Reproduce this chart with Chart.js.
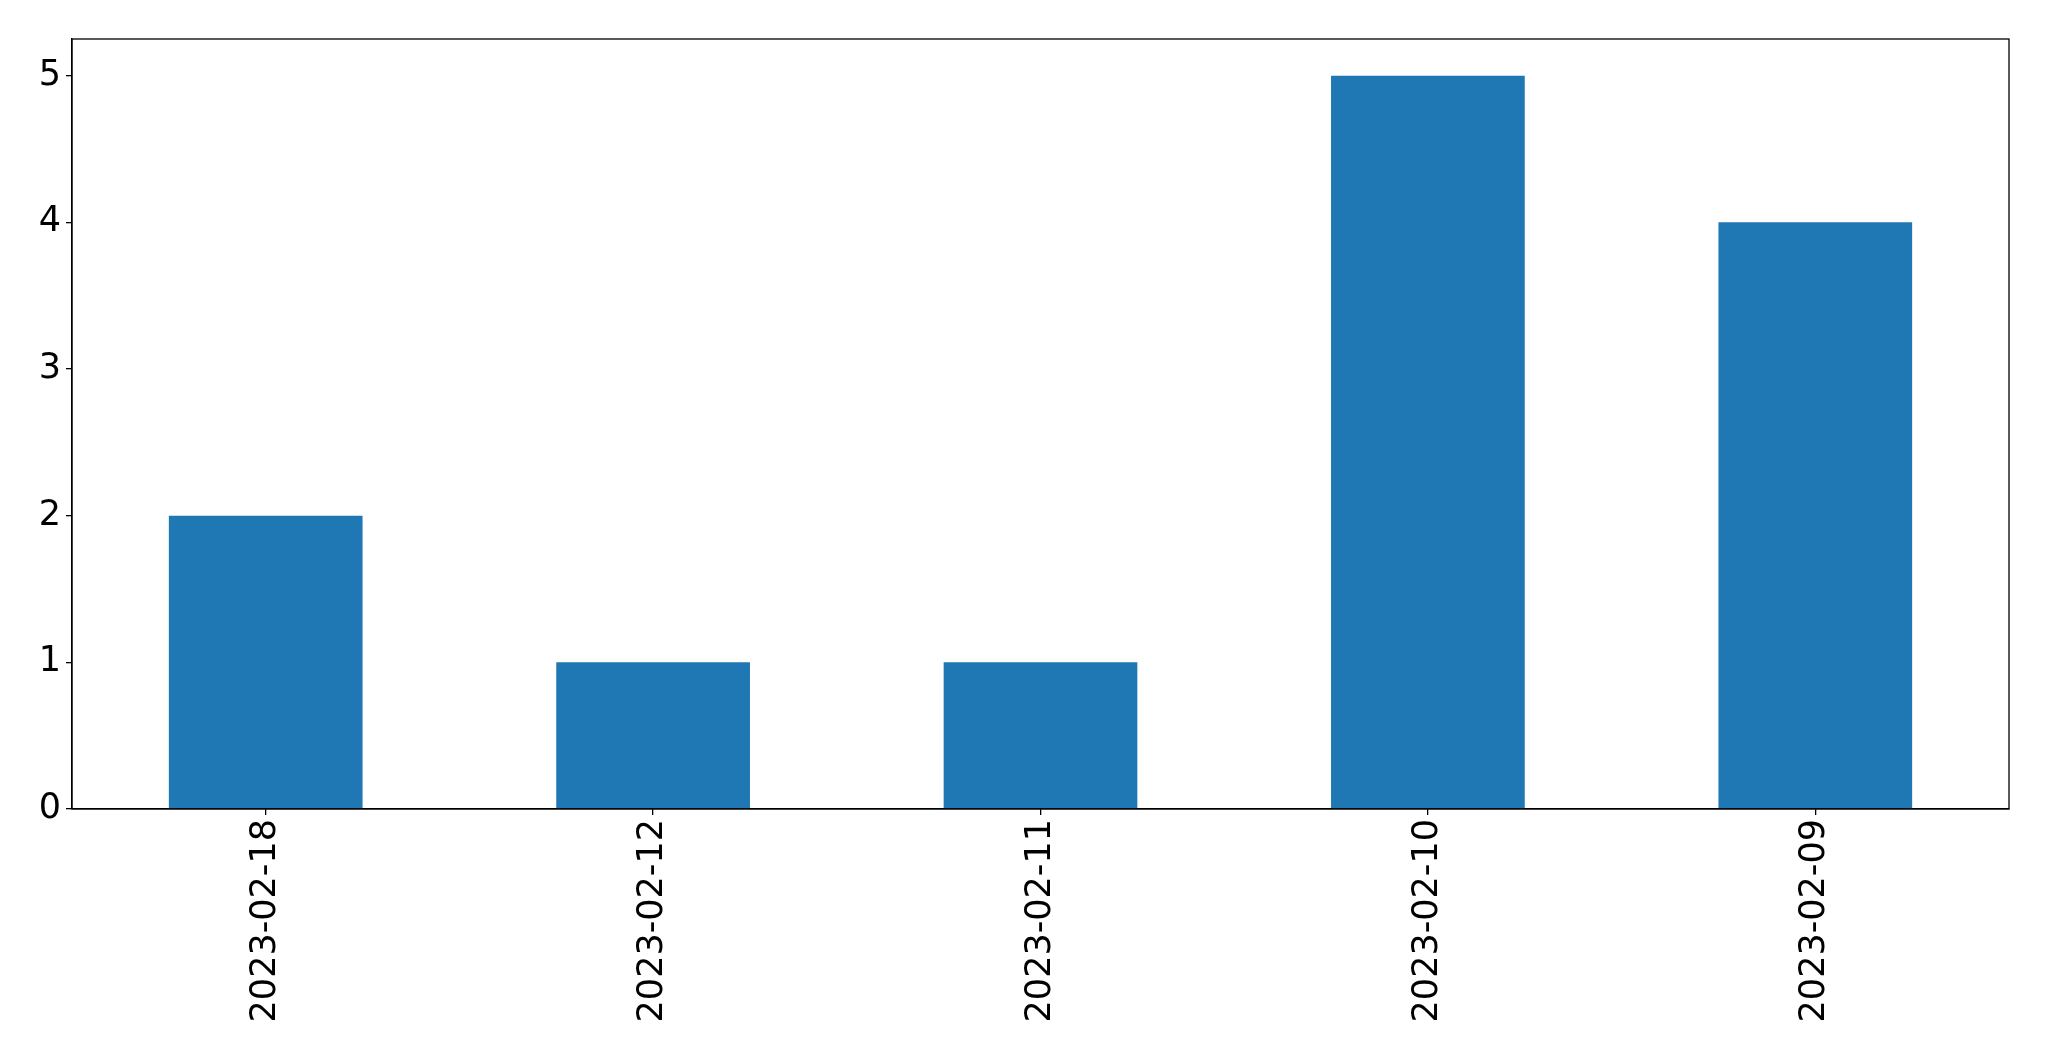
<!DOCTYPE html>
<html>
<head>
<meta charset="utf-8">
<script src="https://cdn.jsdelivr.net/npm/chart.js@4"></script>
<style>
  html, body { margin: 0; padding: 0; background: #fff; }
  #barCanvas { display: block; }
</style>
</head>
<body>
<canvas id="barCanvas" width="2049" height="1061"></canvas>
<script>
// data
const dates = ["2023-02-18", "2023-02-12", "2023-02-11", "2023-02-10", "2023-02-09"];
const counts = [2, 1, 1, 5, 4];
const yTicks = [0, 1, 2, 3, 4, 5];

// box around the plot area (matplotlib style)
const frameBox = {
    id: "frameBox",
    afterDraw(chart) {
        const a = chart.chartArea;
        const ctx = chart.ctx;
        ctx.save();
        ctx.strokeStyle = "#000";
        ctx.lineWidth = 1.3;
        ctx.strokeRect(a.left, a.top, a.right - a.left, a.bottom - a.top);
        ctx.restore();
    }
};

barCanvas = document.getElementById("barCanvas");

barChart = new Chart(barCanvas, {
    type: "bar",
    data: {
        labels: dates,
        datasets: [{
            data: counts,
            backgroundColor: "#1f77b4",
            barPercentage: 0.5,
            categoryPercentage: 1.0
        }]
    },
    options: {
        responsive: false,
        animation: false,
        layout: { padding: { top: 39, right: 40, left: 0, bottom: 0 } },
        scales: {
            x: {
                grid: { offset: false, drawOnChartArea: false, drawTicks: true, tickLength: 6, color: "#000", lineWidth: 1.3 },
                border: { display: true, color: "#000", width: 1.3 },
                ticks: {
                    color: "#000",
                    font: { family: "DejaVu Sans", size: 35 },
                    maxRotation: 90,
                    minRotation: 90,
                    padding: 4
                },
                afterFit: function(scale) { scale.height = 252; }
            },
            y: {
                min: 0,
                max: 5.25,
                grid: { drawOnChartArea: false, drawTicks: true, tickLength: 6, color: "#000", lineWidth: 1.3 },
                border: { display: true, color: "#000", width: 1.3 },
                ticks: {
                    color: "#000",
                    font: { family: "DejaVu Sans", size: 35 },
                    stepSize: 1,
                    includeBounds: false,
                    padding: 5
                },
                afterBuildTicks: function(scale) {
                    scale.ticks = yTicks.map(v => ({ value: v }));
                },
                afterFit: function(scale) { scale.width = 72; }
            }
        },
        plugins: { legend: { display: false }, tooltip: { enabled: false } }
    },
    plugins: [frameBox]
});
</script>
</body>
</html>
